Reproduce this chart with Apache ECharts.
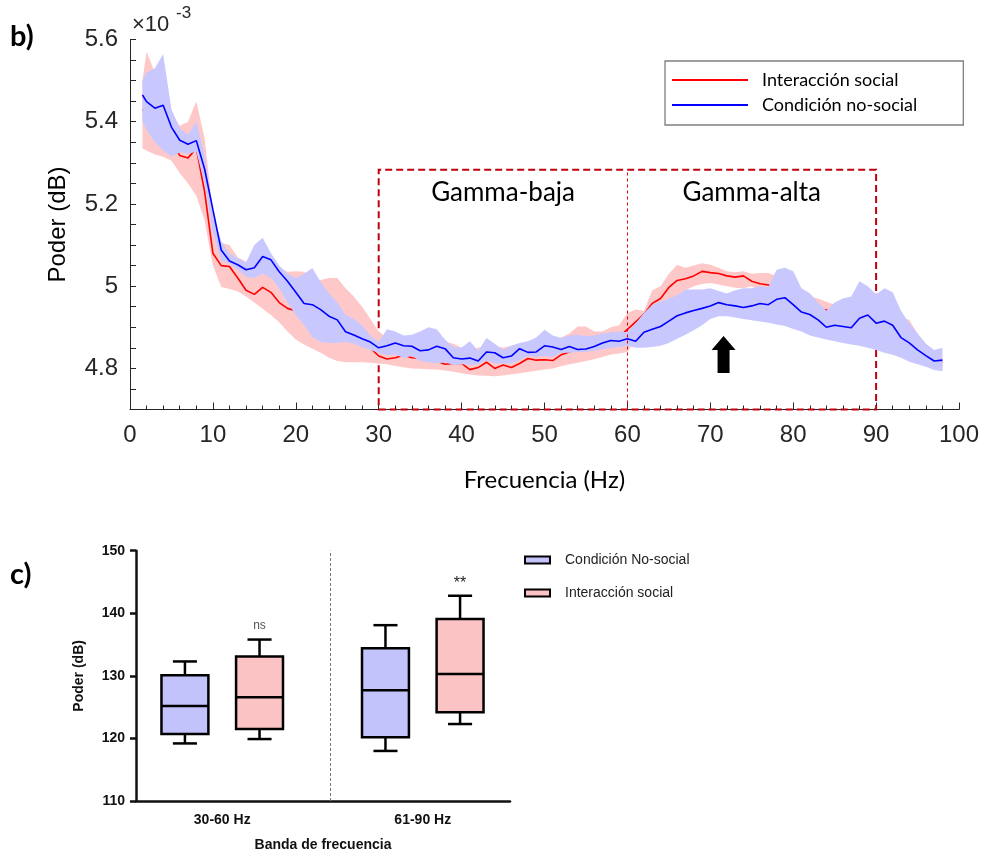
<!DOCTYPE html>
<html>
<head>
<meta charset="utf-8">
<script src="https://cdn.jsdelivr.net/npm/echarts@6/dist/echarts.min.js"></script>
<style>
  html, body { margin: 0; padding: 0; background: #fff; }
  #main { width: 981px; height: 857px; }
</style>
</head>
<body>
<div id="main"></div>
<script>
// ---- panel b: power spectrum, values in units of 1e-3 ----
const freq = [1.5,
  2, 3, 4, 5, 6, 7, 8, 9, 10,
  11, 12, 13, 14, 15, 16, 17, 18, 19, 20,
  21, 22, 23, 24, 25, 26, 27, 28, 29, 30,
  31, 32, 33, 34, 35, 36, 37, 38, 39, 40,
  41, 42, 43, 44, 45, 46, 47, 48, 49, 50,
  51, 52, 53, 54, 55, 56, 57, 58, 59, 60,
  61, 62, 63, 64, 65, 66, 67, 68, 69, 70,
  71, 72, 73, 74, 75, 76, 77, 78, 79, 80,
  81, 82, 83, 84, 85, 86, 87, 88, 89, 90,
  91, 92, 93, 94, 95, 96, 97, 98];

const socialMean = [5.43,
  5.42, 5.40, 5.39, 5.35, 5.318, 5.312, 5.335, 5.23, 5.08,
  5.05, 5.048, 5.02, 4.99, 4.98, 4.997, 4.985, 4.96, 4.946, 4.94,
  4.925, 4.91, 4.895, 4.88, 4.87, 4.87, 4.865, 4.858, 4.85, 4.83,
  4.823, 4.826, 4.832, 4.826, 4.825, 4.822, 4.818, 4.81, 4.812, 4.812,
  4.797, 4.802, 4.815, 4.80, 4.808, 4.802, 4.812, 4.824, 4.82, 4.821,
  4.819, 4.833, 4.84, 4.848, 4.85, 4.855, 4.86, 4.866, 4.876, 4.895,
  4.913, 4.932, 4.958, 4.97, 4.997, 5.014, 5.018, 5.025, 5.036, 5.033,
  5.031, 5.025, 5.022, 5.025, 5.012, 5.006, 5.003, 4.998, 4.99, 4.975,
  4.965, 4.955, 4.945, 4.942, 4.93, 4.92, 4.91, 4.91, 4.91, 4.905,
  4.9, 4.89, 4.87, 4.86, 4.845, 4.83, 4.82, 4.815];
const socialLow = [5.335,
  5.33, 5.32, 5.315, 5.305, 5.275, 5.25, 5.22, 5.16, 5.05,
  4.998, 4.993, 4.987, 4.975, 4.96, 4.945, 4.93, 4.912, 4.89, 4.87,
  4.858, 4.848, 4.838, 4.826, 4.818, 4.815, 4.815, 4.815, 4.814, 4.812,
  4.81, 4.806, 4.803, 4.80, 4.799, 4.798, 4.797, 4.795, 4.792, 4.788,
  4.785, 4.783, 4.782, 4.781, 4.783, 4.786, 4.788, 4.791, 4.794, 4.797,
  4.80, 4.805, 4.81, 4.814, 4.818, 4.822, 4.828, 4.834, 4.836, 4.84,
  4.87, 4.89, 4.92, 4.94, 4.96, 4.975, 4.99, 5.0, 5.005, 5.008,
  5.004, 5.0, 4.996, 4.995, 5.0, 4.99, 4.98, 4.965, 4.95, 4.94,
  4.93, 4.92, 4.915, 4.91, 4.9, 4.89, 4.88, 4.875, 4.87, 4.865,
  4.86, 4.85, 4.84, 4.825, 4.815, 4.805, 4.80, 4.797];
const socialHigh = [5.50,
  5.57, 5.52, 5.50, 5.42, 5.39, 5.40, 5.45, 5.36, 5.18,
  5.105, 5.10, 5.07, 5.06, 5.07, 5.09, 5.07, 5.045, 5.035, 5.036,
  5.035, 5.02, 5.015, 5.02, 5.02, 4.995, 4.975, 4.95, 4.92, 4.89,
  4.874, 4.868, 4.86, 4.87, 4.87, 4.875, 4.87, 4.865, 4.86, 4.85,
  4.845, 4.85, 4.855, 4.855, 4.85, 4.855, 4.86, 4.862, 4.865, 4.87,
  4.872, 4.875, 4.885, 4.902, 4.902, 4.89, 4.89, 4.9, 4.905, 4.935,
  4.943, 4.94, 4.99, 5.0, 5.03, 5.052, 5.045, 5.05, 5.056, 5.052,
  5.045, 5.036, 5.034, 5.036, 5.03, 5.032, 5.032, 5.025, 5.015, 5.0,
  4.98, 4.975, 4.97, 4.962, 4.955, 4.95, 4.95, 4.96, 4.97, 4.985,
  4.97, 4.95, 4.925, 4.918, 4.885, 4.86, 4.84, 4.83];

const nonSocialMean = [5.465,
  5.449, 5.433, 5.44, 5.387, 5.355, 5.345, 5.354, 5.285, 5.186,
  5.088, 5.061, 5.052, 5.040, 5.045, 5.072, 5.064, 5.035, 5.012, 4.985,
  4.958, 4.955, 4.943, 4.927, 4.918, 4.889, 4.881, 4.872, 4.864, 4.850,
  4.855, 4.862, 4.855, 4.854, 4.843, 4.845, 4.854, 4.848, 4.826, 4.823,
  4.825, 4.818, 4.840, 4.838, 4.826, 4.830, 4.848, 4.839, 4.840, 4.855,
  4.852, 4.846, 4.853, 4.846, 4.847, 4.853, 4.862, 4.868, 4.866, 4.872,
  4.866, 4.888, 4.895, 4.902, 4.915, 4.928, 4.935, 4.941, 4.946, 4.952,
  4.960, 4.955, 4.952, 4.948, 4.952, 4.958, 4.955, 4.968, 4.972, 4.955,
  4.937, 4.931, 4.918, 4.900, 4.905, 4.902, 4.899, 4.922, 4.930, 4.910,
  4.915, 4.905, 4.875, 4.862, 4.845, 4.831, 4.818, 4.820];
const nonSocialLow = [5.40,
  5.38, 5.35, 5.33, 5.315, 5.325, 5.322, 5.327, 5.25, 5.13,
  5.062, 5.055, 5.04, 5.022, 5.02, 5.03, 5.02, 4.995, 4.96, 4.93,
  4.905, 4.876, 4.864, 4.862, 4.862, 4.864, 4.86, 4.852, 4.845, 4.838,
  4.832, 4.834, 4.825, 4.83, 4.818, 4.815, 4.812, 4.815, 4.808, 4.81,
  4.808, 4.81, 4.82, 4.812, 4.812, 4.812, 4.82, 4.83, 4.828, 4.83,
  4.828, 4.838, 4.838, 4.84, 4.84, 4.843, 4.846, 4.85, 4.852, 4.855,
  4.85, 4.85, 4.852, 4.855, 4.862, 4.872, 4.882, 4.893, 4.905, 4.92,
  4.927, 4.927, 4.924, 4.92, 4.917, 4.914, 4.911, 4.907, 4.903, 4.896,
  4.89, 4.88, 4.875, 4.87, 4.866, 4.862, 4.858, 4.855, 4.85, 4.845,
  4.838, 4.833, 4.826, 4.816, 4.81, 4.804, 4.796, 4.793];
const nonSocialHigh = [5.50,
  5.52, 5.53, 5.565, 5.43, 5.385, 5.368, 5.40, 5.32, 5.17,
  5.11, 5.08, 5.068, 5.058, 5.10, 5.118, 5.08, 5.05, 5.03, 5.02,
  5.03, 5.044, 5.01, 4.983, 4.96, 4.93, 4.92, 4.905, 4.88, 4.865,
  4.895, 4.89, 4.88, 4.882, 4.89, 4.90, 4.895, 4.87, 4.852, 4.851,
  4.866, 4.842, 4.874, 4.86, 4.845, 4.855, 4.862, 4.866, 4.875, 4.894,
  4.88, 4.874, 4.88, 4.882, 4.878, 4.88, 4.885, 4.888, 4.89, 4.888,
  4.91, 4.935, 4.955, 4.962, 4.97, 4.978, 4.992, 4.992, 4.992, 4.995,
  4.988, 4.982, 4.99, 4.995, 4.995, 5.0, 4.998, 5.04, 5.045, 5.036,
  4.995, 4.983, 4.96, 4.94, 4.96, 4.97, 4.975, 5.012, 5.0, 4.98,
  4.995, 4.985, 4.94, 4.91, 4.885, 4.86, 4.845, 4.85];

const gammaLow = [30, 60];
const gammaHigh = [60, 90];
const gammaBoxTop = 5.283;
const arrowAt = [71.6, 4.834];

// ---- panel c: box plots [min, Q1, median, Q3, max] ----
const bandNames = ['30-60 Hz', '61-90 Hz'];
const nonSocialBox = [
  [119.2, 120.7, 125.2, 130.1, 132.3],
  [118.0, 120.2, 127.7, 134.4, 138.1]
];
const socialBox = [
  [119.9, 121.5, 126.6, 133.1, 135.8],
  [122.3, 124.2, 130.3, 139.1, 142.8]
];
const significance = ['ns', '**'];

const RED = '#ff0000', BLUE = '#0000ff';
const RED_BAND = '#ffc8c8', BLUE_BAND = '#c8c8ff';
const BOX_BLUE = '#c3c3fb', BOX_PINK = '#fbc3c3';
const AXIS = '#262626';
const ARIAL = 'Liberation Sans', CALIBRI = 'Lato';

function bandSeries(lo, hi, color, z) {
  return {
    type: 'custom',
    xAxisIndex: 0, yAxisIndex: 0,
    z: z, silent: true, clip: false,
    data: freq.map((f, i) => [f, lo[i], hi[i]]),
    encode: { x: 0, y: [1, 2] },
    renderItem(params, api) {
      if (params.dataIndex !== 0) return null;
      const n = params.dataInsideLength;
      const pts = [];
      for (let i = 0; i < n; i++) pts.push(api.coord([api.value(0, i), api.value(2, i)]));
      for (let i = n - 1; i >= 0; i--) pts.push(api.coord([api.value(0, i), api.value(1, i)]));
      return { type: 'polygon', shape: { points: pts }, style: { fill: color } };
    }
  };
}

function lineSeries(name, vals, color, z) {
  return {
    name: name, type: 'line',
    xAxisIndex: 0, yAxisIndex: 0, z: z,
    data: freq.map((f, i) => [f, vals[i]]),
    showSymbol: false, symbol: 'none', silent: true,
    itemStyle: { color: color },
    lineStyle: { color: color, width: 1.6 }
  };
}

const boxHalf = 0.117, capHalf = 0.06;
function boxSeries(name, boxes, offset, fill, labels) {
  return {
    name: name, type: 'custom',
    xAxisIndex: 1, yAxisIndex: 1, z: 3, clip: false, silent: true,
    itemStyle: { color: fill, borderColor: '#000', borderWidth: 2 },
    data: boxes.map((b, i) => [i].concat(b)),
    encode: { x: 0, y: [1, 2, 3, 4, 5] },
    renderItem(params, api) {
      const x = api.value(0) + offset;
      const p = k => api.coord([x, api.value(k)]);
      const left = api.coord([x - boxHalf, api.value(2)])[0];
      const right = api.coord([x + boxHalf, api.value(2)])[0];
      const cl = api.coord([x - capHalf, api.value(1)])[0];
      const cr = api.coord([x + capHalf, api.value(1)])[0];
      const pMin = p(1), pQ1 = p(2), pMed = p(3), pQ3 = p(4), pMax = p(5);
      const st = { stroke: '#000', lineWidth: 2.5 };
      const kids = [
        { type: 'line', shape: { x1: pMin[0], y1: pMin[1], x2: pQ1[0], y2: pQ1[1] }, style: st },
        { type: 'line', shape: { x1: pQ3[0], y1: pQ3[1], x2: pMax[0], y2: pMax[1] }, style: st },
        { type: 'line', shape: { x1: cl, y1: pMin[1], x2: cr, y2: pMin[1] }, style: st },
        { type: 'line', shape: { x1: cl, y1: pMax[1], x2: cr, y2: pMax[1] }, style: st },
        { type: 'rect', shape: { x: left, y: pQ3[1], width: right - left, height: pQ1[1] - pQ3[1] },
          style: { fill: fill, stroke: '#000', lineWidth: 2.5 } },
        { type: 'line', shape: { x1: left, y1: pMed[1], x2: right, y2: pMed[1] }, style: st }
      ];
      if (labels) {
        const t = labels[params.dataIndex];
        kids.push({
          type: 'text',
          style: {
            text: t, x: pMax[0], y: pMax[1] - (t === 'ns' ? 8 : 4),
            align: 'center', verticalAlign: 'bottom',
            fill: t === 'ns' ? '#555' : '#222',
            fontSize: t === 'ns' ? 12 : 16, fontFamily: ARIAL
          }
        });
      }
      return { type: 'group', children: kids };
    }
  };
}

const chart = echarts.init(document.getElementById('main'), null, { renderer: 'canvas' });

const blueLine = lineSeries('Condición no-social', nonSocialMean, BLUE, 4);
blueLine.markArea = {
  silent: true,
  itemStyle: { color: 'rgba(0,0,0,0)', borderWidth: 0 },
  label: { show: true, position: 'insideTop', distance: 10, color: '#000', fontSize: 26, fontFamily: CALIBRI },
  data: [
    [{ xAxis: gammaLow[0], yAxis: 4.7, name: '',
       itemStyle: { borderColor: '#c0000f', borderWidth: 2, borderType: [7, 4], color: 'rgba(0,0,0,0)' } },
     { xAxis: gammaHigh[1], yAxis: gammaBoxTop }],
    [{ xAxis: gammaLow[0], yAxis: 4.7, name: 'Gamma-baja' }, { xAxis: gammaLow[1], yAxis: gammaBoxTop }],
    [{ xAxis: gammaHigh[0], yAxis: 4.7, name: 'Gamma-alta' }, { xAxis: gammaHigh[1], yAxis: gammaBoxTop }]
  ]
};
blueLine.markLine = {
  silent: true, symbol: ['none', 'none'], label: { show: false },
  lineStyle: { color: '#e00000', width: 1, type: [3, 3] },
  data: [[{ xAxis: gammaLow[1], yAxis: 4.7 }, { xAxis: gammaLow[1], yAxis: gammaBoxTop }]]
};
blueLine.markPoint = {
  silent: true, label: { show: false },
  data: [{
    coord: arrowAt,
    symbol: 'path://M12,0 L24,14 L18,14 L18,37 L6,37 L6,14 L0,14 Z',
    symbolSize: [24, 37], itemStyle: { color: '#000' }
  }]
};

const divider = boxSeries('Condición No-social', nonSocialBox, -0.186, BOX_BLUE, null);
divider.markLine = {
  silent: true, symbol: ['none', 'none'], label: { show: false },
  lineStyle: { color: '#777', width: 1, type: [3, 2] },
  data: [{ xAxis: 0.544 }]
};

chart.setOption({
  backgroundColor: '#fff',
  animation: false,
  grid: [
    { left: 130, top: 39.5, right: 22, bottom: 447.5, outerBoundsMode: 'none' },
    { left: 136, top: 550.7, right: 471, bottom: 56, outerBoundsMode: 'none' }
  ],
  legend: [
    {
      data: ['Interacción social', 'Condición no-social'],
      orient: 'vertical', left: 665, top: 61,
      padding: [8, 46, 9, 7], itemGap: 3,
      itemWidth: 76, itemHeight: 2, icon: 'rect',
      borderColor: '#7f7f7f', borderWidth: 1.3,
      selectedMode: false,
      textStyle: { fontSize: 18, color: '#000', fontFamily: CALIBRI, lineHeight: 22, padding: [0, 0, 0, 9] }
    },
    {
      data: ['Condición No-social', 'Interacción social '],
      orient: 'vertical', left: 524, top: 552, padding: 0,
      itemGap: 17, itemWidth: 25, itemHeight: 7, icon: 'rect',
      selectedMode: false,
      itemStyle: { borderColor: '#000', borderWidth: 2 },
      textStyle: { fontSize: 14, color: '#222', fontFamily: ARIAL, lineHeight: 16, padding: [0, 0, 0, 10] }
    }
  ],
  xAxis: [
    {
      type: 'value', gridIndex: 0, min: 0, max: 100, interval: 10,
      name: 'Frecuencia (Hz)', nameLocation: 'middle', nameGap: 59,
      nameTextStyle: { fontSize: 24, color: '#000', fontFamily: CALIBRI },
      axisLine: { show: true, onZero: false, lineStyle: { color: AXIS, width: 1 } },
      axisTick: { show: true, inside: true, length: 7, lineStyle: { color: AXIS } },
      minorTick: { show: true, splitNumber: 5, length: 4, lineStyle: { color: AXIS } },
      axisLabel: { fontSize: 24, color: AXIS, fontFamily: ARIAL, margin: 14 },
      splitLine: { show: false }
    },
    {
      type: 'value', gridIndex: 1, min: -0.43, max: 1.435,
      name: 'Banda de frecuencia', nameLocation: 'middle', nameGap: 37,
      nameTextStyle: { fontSize: 14, fontWeight: 'bold', color: '#111', fontFamily: ARIAL },
      axisLine: { show: true, onZero: false, lineStyle: { color: '#111', width: 2.5 } },
      axisTick: { show: false },
      axisLabel: {
        customValues: [0, 1],
        formatter: v => bandNames[Math.round(v)] || '',
        fontSize: 14, fontWeight: 'bold', color: '#111', fontFamily: ARIAL, margin: 12
      },
      splitLine: { show: false }
    }
  ],
  yAxis: [
    {
      type: 'value', gridIndex: 0, min: 4.7, max: 5.6, interval: 0.05,
      name: 'Poder (dB)', nameLocation: 'middle', nameGap: 60,
      nameTextStyle: { fontSize: 24, color: '#000', fontFamily: ARIAL },
      axisLine: { show: true, onZero: false, lineStyle: { color: AXIS, width: 1 } },
      axisTick: { show: true, inside: true, length: 6, lineStyle: { color: AXIS, width: 1 } },
      axisLabel: {
        fontSize: 24, color: AXIS, fontFamily: ARIAL, margin: 12,
        formatter: v => {
          const r = Math.round(v * 100) / 100;
          return (Math.abs(r * 5 - Math.round(r * 5)) < 1e-6 && r >= 4.8) ? String(r) : '';
        }
      },
      splitLine: { show: false }
    },
    {
      type: 'value', gridIndex: 1, min: 110, max: 150, interval: 10,
      name: 'Poder (dB)', nameLocation: 'middle', nameGap: 50,
      nameTextStyle: { fontSize: 14, fontWeight: 'bold', color: '#111', fontFamily: ARIAL },
      axisLine: { show: true, onZero: false, lineStyle: { color: '#111', width: 2.5 } },
      axisTick: { show: true, length: 6, lineStyle: { color: '#111', width: 2.5 } },
      axisLabel: { fontSize: 14, fontWeight: 'bold', color: '#111', fontFamily: ARIAL, margin: 11 },
      splitLine: { show: false }
    }
  ],
  graphic: [
    { type: 'text', left: 10, top: 22, style: { text: 'b)', fontSize: 29, fontWeight: 'bold', fontFamily: CALIBRI, fill: '#000' } },
    { type: 'text', left: 10, top: 560, style: { text: 'c)', fontSize: 29, fontWeight: 'bold', fontFamily: CALIBRI, fill: '#000' } },
    { type: 'text', left: 132, top: 14, style: { text: '×10', fontSize: 22, fontFamily: ARIAL, fill: AXIS } },
    { type: 'text', left: 176, top: 5, style: { text: '-3', fontSize: 17, fontFamily: ARIAL, fill: AXIS } }
  ],
  series: [
    bandSeries(socialLow, socialHigh, RED_BAND, 1),
    lineSeries('Interacción social', socialMean, RED, 2),
    bandSeries(nonSocialLow, nonSocialHigh, BLUE_BAND, 3),
    blueLine,
    divider,
    boxSeries('Interacción social ', socialBox, 0.186, BOX_PINK, significance)
  ]
});
</script>
</body>
</html>
